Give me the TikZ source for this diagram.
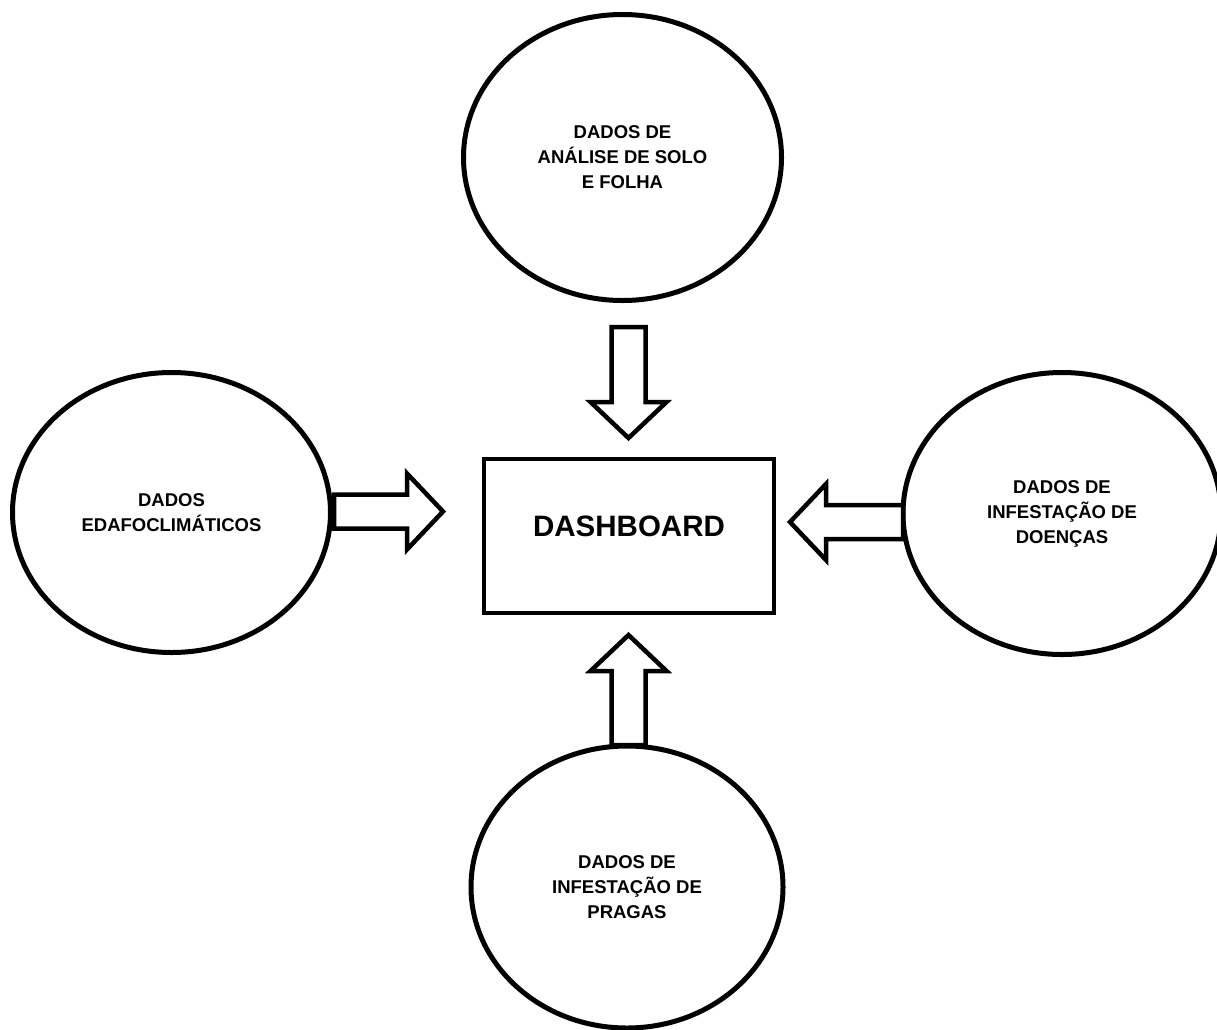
\documentclass[tikz,border=0pt]{standalone}
\usepackage{fontspec}
\setmainfont{Liberation Sans}
\usetikzlibrary{shapes.geometric}
\newcommand{\blockarrow}[3]{% start coordinate, angle, length
  \draw[blockarr, shift={(#1)}, rotate=#2]
    (0,-17) -- ({#3-36},-17) -- ({#3-36},-38) -- (#3,0) -- ({#3-36},38) -- ({#3-36},17) -- (0,17) -- cycle;}
\begin{document}
\begin{tikzpicture}[x=1pt,y=-1pt,
  bubble/.style={ellipse, draw, line width=5pt, inner sep=0pt, align=center,
    font=\fontsize{18.5}{25}\selectfont\bfseries},
  dashbox/.style={rectangle, draw, line width=4pt, inner sep=0pt,
    minimum width=290pt, minimum height=154pt, text depth=19pt,
    font=\fontsize{29.5}{32}\selectfont\bfseries},
  blockarr/.style={draw, fill=white, line width=4.5pt, line join=miter}]
\useasboundingbox (0,0) rectangle (1217,1029);

\node[bubble, minimum width=318pt, minimum height=286pt] (solo) at (622.5,157.5)
  {DADOS DE\\ANÁLISE DE SOLO\\E FOLHA};
\node[bubble, minimum width=318pt, minimum height=280pt] (edafo) at (171.5,512.5)
  {DADOS\\EDAFOCLIMÁTICOS};
\node[bubble, minimum width=318pt, minimum height=282pt] (doencas) at (1062,513.5)
  {DADOS DE\\INFESTAÇÃO DE\\DOENÇAS};
\node[bubble, minimum width=312pt, minimum height=282pt] (pragas) at (627,887)
  {DADOS DE\\INFESTAÇÃO DE\\PRAGAS};
\node[dashbox] (dash) at (629,536) {DASHBOARD};

\coordinate (aTop) at (628.5,327);
\coordinate (aLeft) at (334,511.5);
\coordinate (aRight) at (903,522);
\coordinate (aBottom) at (628.5,745);

\blockarrow{aTop}{-90}{111}
\blockarrow{aLeft}{0}{109}
\blockarrow{aRight}{180}{113}
\blockarrow{aBottom}{90}{110}
\end{tikzpicture}
\end{document}
